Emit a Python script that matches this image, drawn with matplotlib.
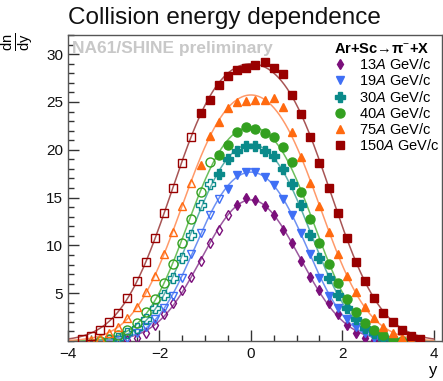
import numpy as np
import matplotlib
matplotlib.use('Agg')
import matplotlib.pyplot as plt
from matplotlib.ticker import MultipleLocator

plt.rcParams['font.family'] = ['Liberation Sans', 'DejaVu Sans']
plt.rcParams['mathtext.fontset'] = 'custom'
plt.rcParams['mathtext.rm'] = 'Liberation Sans'
plt.rcParams['mathtext.it'] = 'Liberation Sans:italic'
plt.rcParams['mathtext.bf'] = 'Liberation Sans:bold'

# Measured points (filled), rapidity centres step 0.2
y_13 = np.round(np.arange(-0.3, 2.71, 0.2), 1)
dn_13 = [14.2, 15.0, 14.7, 14.1, 13.2, 11.6, 10.2, 8.4, 6.7, 5.3, 4.0, 2.8,
         1.7, 0.8, 0.3, 0.1]

y_19 = np.round(np.arange(-0.5, 2.91, 0.2), 1)
dn_19 = [15.9, 17.4, 17.7, 17.7, 17.2, 16.3, 14.8, 13.2, 11.3, 9.1, 6.6, 4.7,
         3.4, 2.3, 1.5, 0.8, 0.3, 0.1]

y_30 = np.round(np.arange(-0.7, 3.11, 0.2), 1)
dn_30 = [17.5, 19.0, 19.9, 20.4, 20.4, 19.9, 19.3, 18.0, 16.4, 14.2, 11.1, 8.7,
         6.6, 4.8, 3.5, 2.3, 1.4, 0.8, 0.3, 0.1]

y_40 = np.round(np.arange(-0.7, 3.31, 0.2), 1)
dn_40 = [19.4, 20.5, 21.9, 22.4, 22.2, 21.8, 21.3, 20.3, 18.7, 15.6, 12.8, 10.3,
         8.1, 6.1, 4.4, 3.0, 1.9, 1.2, 0.6, 0.2, 0.05]

y_75 = np.round(np.arange(-1.1, 3.51, 0.2), 1)
dn_75 = [18.4, 21.4, 22.9, 24.4, 25.0, 25.1, 25.2, 25.2, 25.4, 24.5, 21.9, 19.2,
         16.5, 14.1, 11.4, 9.1, 6.8, 5.1, 3.6, 2.4, 1.5, 0.8, 0.3, 0.1]

y_150 = np.round(np.arange(-1.1, 3.71, 0.2), 1)
dn_150 = [23.8, 25.2, 26.8, 27.7, 28.3, 28.6, 28.9, 29.2, 28.6, 27.9, 25.7, 23.7,
          21.3, 18.6, 16.0, 13.4, 10.8, 8.3, 6.3, 4.5, 2.9, 2.0, 1.2, 0.5, 0.2]

labels = ['13$\\it{A}$ GeV/c', '19$\\it{A}$ GeV/c', '30$\\it{A}$ GeV/c',
          '40$\\it{A}$ GeV/c', '75$\\it{A}$ GeV/c', '150$\\it{A}$ GeV/c']
mcolors = ['#7b0f7b', '#3f6ff5', '#0a8a8a', '#33a020', '#ff6a10', '#990000']
lcolors = ['#9b59a0', '#6f92f2', '#5fb0ad', '#6cbf5c', '#ff9a6a', '#a85555']
markers = ['d', 'v', 'P', 'o', '^', 's']
msizes = [5.5, 6, 6.5, 6.5, 6, 5.5]

series = [(y_13, dn_13), (y_19, dn_19), (y_30, dn_30), (y_40, dn_40),
          (y_75, dn_75), (y_150, dn_150)]


def dgaus(x, a, y0, s):
    return a * (np.exp(-(x - y0)**2 / (2 * s**2)) + np.exp(-(x + y0)**2 / (2 * s**2)))


def fit_dgaus(x, v):
    # crude grid search, amplitude solved linearly
    best = None
    for y0 in np.linspace(0.0, 1.5, 76):
        for s in np.linspace(0.4, 1.6, 121):
            f = dgaus(x, 1.0, y0, s)
            a = np.dot(f, v) / np.dot(f, f)
            r = np.sum((a * f - v)**2)
            if best is None or r < best[0]:
                best = (r, a, y0, s)
    return best[1:]


fig = plt.figure(figsize=(4.43, 3.81), dpi=100)
ax = fig.add_axes([68 / 443, 40 / 381, 374 / 443, 306 / 381])

xx = np.linspace(-4, 4, 400)
handles = []
for i, (ys, vs) in enumerate(series):
    ys = np.array(ys)
    vs = np.array(vs)
    # reflected points where the negative side was not measured
    m = ys > -ys.min() + 0.05
    yo = -ys[m]
    vo = vs[m]
    par = fit_dgaus(np.concatenate([ys, yo]), np.concatenate([vs, vo]))
    ax.plot(xx, dgaus(xx, *par), color=lcolors[i], lw=1.1, zorder=2)
    ax.plot(yo, vo, ls='none', marker=markers[i], ms=msizes[i], mfc='none',
            mec=mcolors[i], mew=1.0, zorder=3)
    h, = ax.plot(ys, vs, ls='none', marker=markers[i], ms=msizes[i],
                 color=mcolors[i], mec=mcolors[i], zorder=4, label=labels[i])
    handles.append(h)

ax.set_xlim(-4, 4.18)
ax.set_ylim(0, 32)
ax.xaxis.set_major_locator(MultipleLocator(2))
ax.xaxis.set_minor_locator(MultipleLocator(0.5))
ax.yaxis.set_major_locator(MultipleLocator(5))
ax.yaxis.set_minor_locator(MultipleLocator(1))
ax.set_yticks([5, 10, 15, 20, 25, 30])
ax.tick_params(which='both', direction='in', top=False, right=False,
               colors='#333333', labelcolor='#111111', labelsize=11)
ax.tick_params(which='major', length=8, width=1)
ax.tick_params(which='minor', length=4, width=1)
ax.tick_params(axis='x', pad=4)
for sp in ax.spines.values():
    sp.set_color('#555555')
    sp.set_linewidth(1)

ax.text(0.01, 0.98, 'NA61/SHINE preliminary', transform=ax.transAxes,
        fontsize=12.5, fontweight='bold', color='#c8c8c8', va='top', ha='left')

leg = ax.legend(handles=handles, loc='upper left', bbox_to_anchor=(0.685, 1.01),
                frameon=False, fontsize=10.5, handlelength=0.8, handletextpad=0.9,
                labelspacing=0.08, borderpad=0.2,
                title='Ar+Sc\u2192\u03c0$^{-}$+X',
                title_fontproperties={'weight': 'bold', 'size': 10.5})
leg._legend_box.align = 'left'

fig.text(68 / 443, 1 - 18 / 381, 'Collision energy dependence', fontsize=17.5,
         ha='left', va='center', color='#111111')
fig.text(0.038, 1 - 42 / 381, r'$\frac{\mathrm{dn}}{\mathrm{dy}}$', rotation=90,
         fontsize=15, ha='center', va='center')
fig.text(437 / 443, 1 - 370 / 381, 'y', fontsize=12, ha='right', va='center')

fig.savefig('out.png', dpi=100)
